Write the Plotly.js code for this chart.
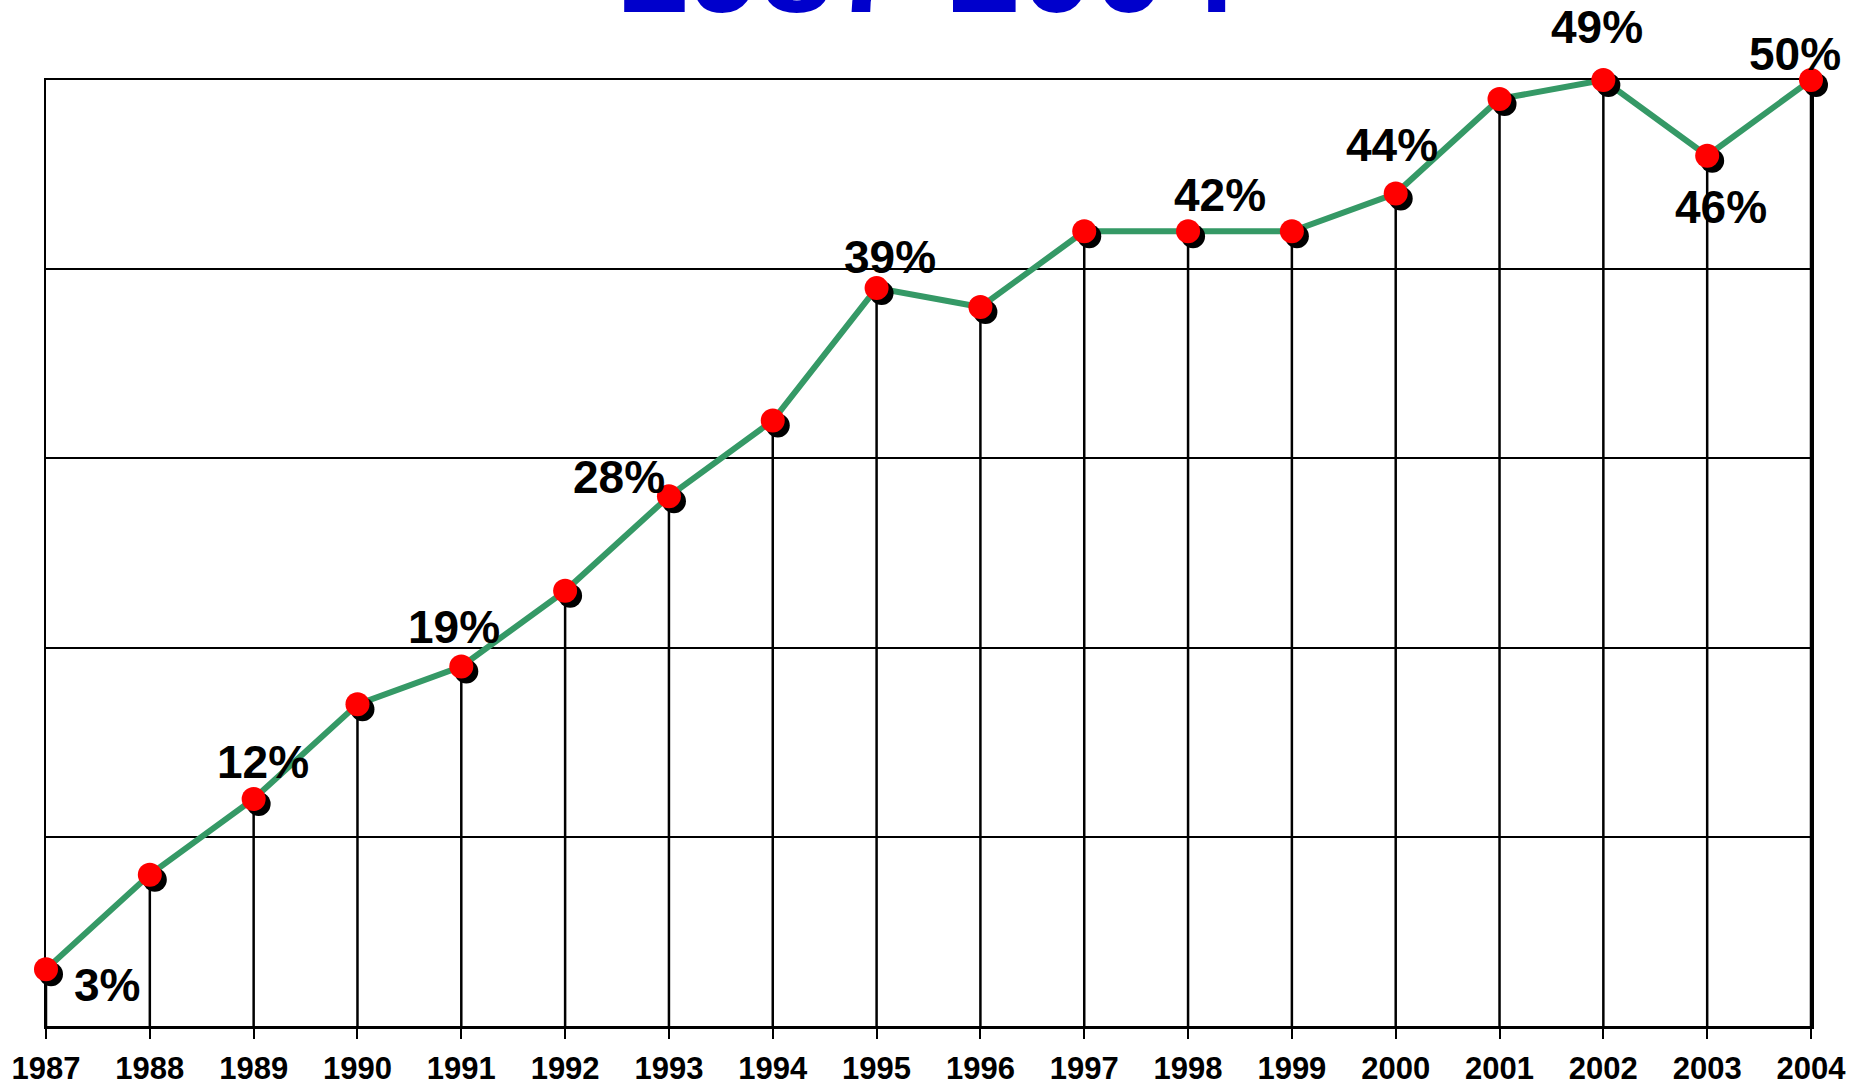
<!DOCTYPE html>
<html>
<head>
<meta charset="utf-8">
<script src="https://cdn.plot.ly/plotly-3.0.1.min.js"></script>
<style>
  html, body { margin: 0; padding: 0; background: #ffffff; }
  #chart { width: 1866px; height: 1087px; }
</style>
</head>
<body>
<div id="chart"></div>
<script>
// ---- data ----
const years = [1987, 1988, 1989, 1990, 1991, 1992, 1993, 1994, 1995, 1996, 1997, 1998, 1999, 2000, 2001, 2002, 2003, 2004];
const shares = [3, 8, 12, 17, 19, 23, 28, 32, 39, 38, 42, 42, 42, 44, 49, 50, 46, 50];
const tickLabels = ['1987', '1988', '1989', '1990', '1991', '1992', '1993', '1994', '1995', '1996', '1997', '1998', '1999', '2000', '2001', '2002', '2003', '2004'];
const labelYears = [1987, 1989, 1991, 1993, 1995, 1998, 2000, 2002, 2003, 2004];
const labelTexts = ['3%', '12%', '19%', '28%', '39%', '42%', '44%', '49%', '46%', '50%'];
const titleText = '1987-2004';

// ---- styling / placement (not data) ----
const labelOffsets = [[61, -16], [9, 37], [-7, 40], [-50, 19], [13, 31], [32, 36], [-4, 49], [-6, 53], [14, -51], [-16, 26]];
const W = 1866, H = 1087;
const mL = 46, mR = 50, mT = 80, mB = 56;
const plotW = W - mL - mR, plotH = H - mT - mB;
const sh = 5; // shadow offset in px
const dx = sh / plotW, dy = sh / plotH;
const FONT = 'Liberation Sans, Arial, Helvetica, sans-serif';

const traces = [
  // drop lines
  {
    x: years, y: shares, xaxis: 'x', yaxis: 'y', type: 'scatter', mode: 'markers',
    marker: { size: 1, color: 'black' }, hoverinfo: 'skip', showlegend: false,
    error_y: { type: 'data', symmetric: false, array: shares.map(() => 0), arrayminus: shares.slice(), width: 0, thickness: 2.5, color: 'black' }
  },
  // green line
  {
    x: years, y: shares, xaxis: 'x', yaxis: 'y', type: 'scatter', mode: 'lines',
    line: { color: '#359966', width: 6 }, hoverinfo: 'skip', showlegend: false
  },
  // shadow markers
  {
    x: years, y: shares, xaxis: 'x2', yaxis: 'y2', type: 'scatter', mode: 'markers',
    marker: { size: 24, color: 'black' }, hoverinfo: 'skip', showlegend: false, cliponaxis: false
  },
  // red markers
  {
    x: years, y: shares, xaxis: 'x3', yaxis: 'y3', type: 'scatter', mode: 'markers',
    marker: { size: 24, color: '#ff0000' }, hoverinfo: 'skip', showlegend: false, cliponaxis: false
  }
];

const annotations = labelYears.map((yr, i) => ({
  x: yr, y: shares[years.indexOf(yr)], xref: 'x', yref: 'y',
  text: labelTexts[i], showarrow: false, xanchor: 'center', yanchor: 'middle',
  xshift: labelOffsets[i][0], yshift: labelOffsets[i][1],
  font: { family: FONT, size: 46, color: '#000000', weight: 'bold' }
}));

annotations.push({
  x: 0.498, y: 1, xref: 'paper', yref: 'paper', text: titleText, showarrow: false,
  xanchor: 'center', yanchor: 'bottom', yshift: 38,
  font: { family: FONT, size: 130, color: '#0000cc', weight: 'bold' }
});

const hidden = { visible: false, showgrid: false, zeroline: false, showticklabels: false, fixedrange: true };

const layout = {
  width: W, height: H,
  margin: { l: mL, r: mR, t: mT, b: mB, pad: 0 },
  paper_bgcolor: '#ffffff', plot_bgcolor: 'rgba(0,0,0,0)',
  showlegend: false,
  xaxis: {
    domain: [0, 1 - dx], range: [1987, 2004], anchor: 'y',
    tickmode: 'array', tickvals: years, ticktext: tickLabels,
    ticks: 'outside', ticklen: 10, tickwidth: 2, tickcolor: '#000000',
    ticklabelstandoff: 3,
    showline: true, linecolor: '#000000', linewidth: 2.5, mirror: true,
    showgrid: false, zeroline: false,
    tickfont: { family: FONT, size: 31, color: '#000000', weight: 'bold' }
  },
  yaxis: {
    domain: [dy, 1], range: [0, 50], anchor: 'x',
    tickmode: 'linear', tick0: 0, dtick: 10,
    showgrid: true, gridcolor: '#000000', gridwidth: 2,
    showline: true, linecolor: '#000000', linewidth: 2.5, mirror: true,
    showticklabels: false, ticks: '', zeroline: false
  },
  xaxis2: Object.assign({}, hidden, { domain: [dx, 1], range: [1987, 2004], anchor: 'y2' }),
  yaxis2: Object.assign({}, hidden, { domain: [0, 1 - dy], range: [0, 50], anchor: 'x2' }),
  xaxis3: Object.assign({}, hidden, { domain: [0, 1 - dx], range: [1987, 2004], anchor: 'y3' }),
  yaxis3: Object.assign({}, hidden, { domain: [dy, 1], range: [0, 50], anchor: 'x3' }),
  annotations: annotations
};

Plotly.newPlot('chart', traces, layout, { staticPlot: true, displayModeBar: false });
</script>
</body>
</html>
